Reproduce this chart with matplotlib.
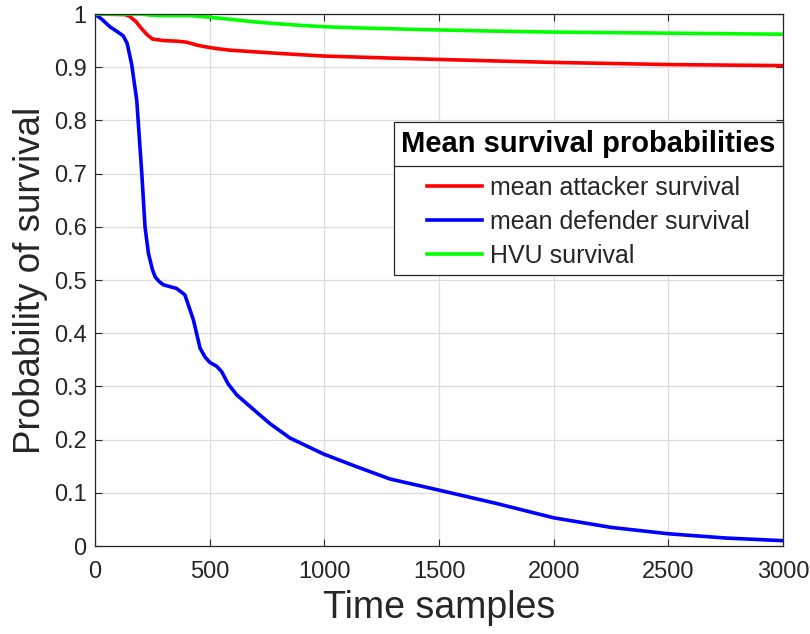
import matplotlib
matplotlib.use("Agg")
import matplotlib.pyplot as plt
from matplotlib.lines import Line2D

# values
t_def = [0, 30, 65, 100, 123, 140, 160, 182, 204, 218, 233, 250, 262, 280, 298, 356, 392,
         429, 458, 480, 501, 530, 552, 580, 618, 690, 763, 850, 996, 1141, 1286, 1500,
         1750, 2000, 2250, 2500, 2750, 3000]
p_def = [1.0, 0.99, 0.976, 0.966, 0.959, 0.945, 0.905, 0.838, 0.700, 0.600, 0.550, 0.520,
         0.506, 0.497, 0.491, 0.484, 0.472, 0.425, 0.372, 0.355, 0.345, 0.338, 0.328, 0.305,
         0.284, 0.257, 0.230, 0.203, 0.173, 0.149, 0.126, 0.105, 0.080, 0.053, 0.035, 0.023,
         0.015, 0.010]

t_att = [0, 130, 150, 180, 200, 225, 250, 300, 356, 400, 440, 473, 530, 589, 800, 996,
         1300, 1723, 2000, 2500, 3000]
p_att = [1.0, 0.999, 0.996, 0.985, 0.974, 0.962, 0.953, 0.950, 0.949, 0.947, 0.942, 0.939,
         0.935, 0.932, 0.926, 0.921, 0.917, 0.912, 0.909, 0.905, 0.903]

t_hvu = [0, 200, 240, 283, 414, 500, 589, 700, 850, 1000, 1141, 1400, 1723, 2000, 2500, 3000]
p_hvu = [1.0, 1.0, 0.998, 0.997, 0.997, 0.994, 0.990, 0.985, 0.980, 0.976, 0.974, 0.971,
         0.968, 0.966, 0.964, 0.962]

plt.rcParams["font.family"] = "Liberation Sans"
dark = "#262626"

fig = plt.figure(figsize=(8.1, 6.34), dpi=100)
ax = fig.add_axes([0.1173, 0.1388, 0.8494, 0.8391])

ax.plot(t_att, p_att, color="#ff0000", lw=2.6, label="mean attacker survival")
ax.plot(t_def, p_def, color="#0000ff", lw=2.6, label="mean defender survival")
ax.plot(t_hvu, p_hvu, color="#00ff00", lw=2.6, label="HVU survival")

ax.set_xlim(0, 3000)
ax.set_ylim(0, 1)
ax.set_xticks(range(0, 3001, 500))
ax.set_yticks([i / 10 for i in range(11)])
ax.set_yticklabels(["0", "0.1", "0.2", "0.3", "0.4", "0.5", "0.6", "0.7", "0.8", "0.9", "1"])
ax.grid(True, color="#dcdcdc", lw=0.9)
ax.set_axisbelow(True)
ax.tick_params(direction="in", top=True, right=True, length=5, colors=dark, labelsize=17)
ax.tick_params(axis="x", pad=11)
ax.tick_params(axis="y", pad=6)
for s in ax.spines.values():
    s.set_color(dark)
    s.set_linewidth(0.9)

ax.set_xlabel("Time samples", fontsize=27, color=dark, labelpad=5)
ax.set_ylabel("Probability of survival", fontsize=26.5, color=dark, labelpad=4)

leg = ax.legend(loc="upper right", bbox_to_anchor=(1.0, 0.797), borderaxespad=0, fontsize=18,
                title="Mean survival probabilities", fancybox=False, framealpha=1,
                edgecolor=dark, handlelength=2.2, handletextpad=0.3, borderpad=0.3,
                labelspacing=0.4)
leg.get_title().set_fontweight("bold")
leg.get_title().set_fontsize(21)
leg.get_frame().set_linewidth(0.9)
for txt in leg.get_texts():
    txt.set_color(dark)
# extra room between the title and the entries
leg._legend_box.sep = 0.4 * 18 + 6

fig.canvas.draw()
tb = leg.get_title().get_window_extent()
eb = leg.get_texts()[0].get_window_extent()
fb = leg.get_frame().get_window_extent()
ysep = 0.5 * ((tb.y0 + tb.y1) / 2 + (eb.y0 + eb.y1) / 2)
inv = fig.transFigure.inverted()
(x0, y0), (x1, _) = inv.transform([(fb.x0, ysep), (fb.x1, ysep)])
fig.add_artist(Line2D([x0, x1], [y0, y0], color=dark, lw=0.9, transform=fig.transFigure))

fig.savefig("out.png", dpi=100)
